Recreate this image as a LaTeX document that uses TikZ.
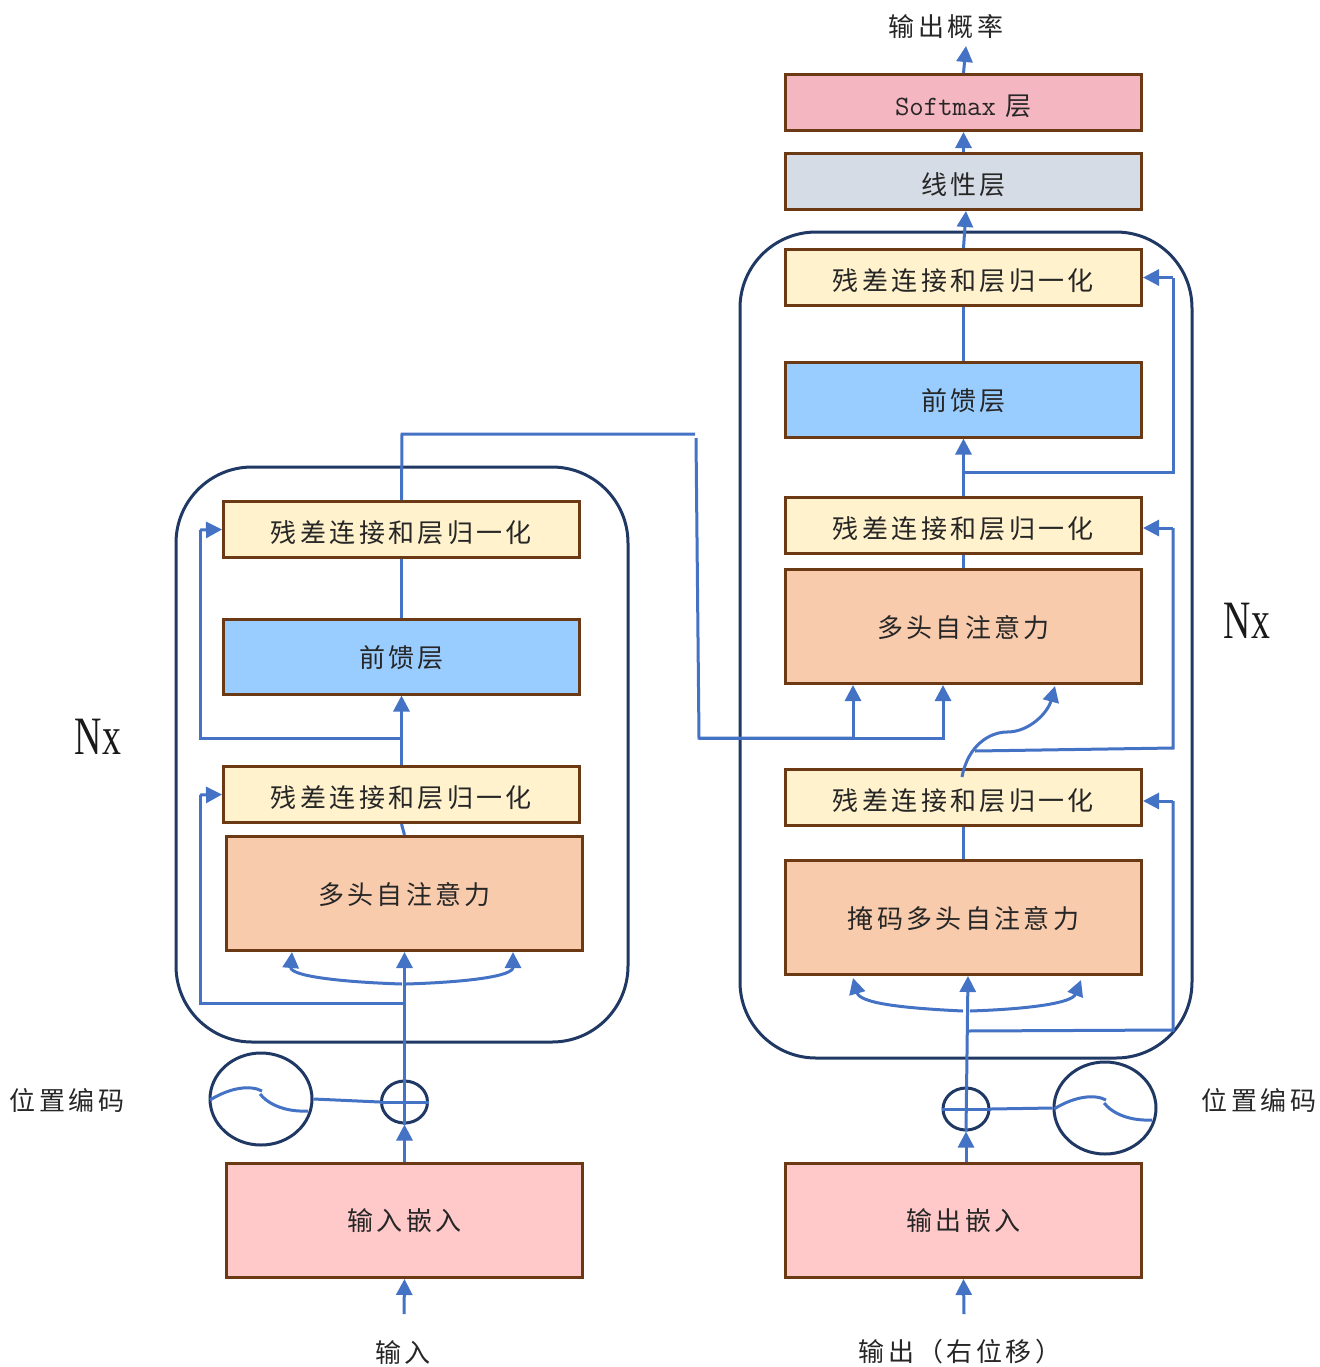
\documentclass[tikz,border=0pt]{standalone}
\usepackage{fontspec}
\usetikzlibrary{arrows.meta}
\usetikzlibrary{shapes.geometric}
\setmainfont{Liberation Serif}
\newfontfamily\cjk[LetterSpace=13]{Noto Sans CJK SC}
\newfontfamily\nxfont[FakeStretch=0.7]{Liberation Serif}
\definecolor{flowblue}{HTML}{4472C4}
\definecolor{darkblue}{HTML}{203864}
\definecolor{boxbrown}{HTML}{6B3A14}
\definecolor{resfill}{HTML}{FFF2CC}
\definecolor{feedfill}{HTML}{99CCFF}
\definecolor{attfill}{HTML}{F8CBAD}
\definecolor{embfill}{HTML}{FFC9C9}
\definecolor{softfill}{HTML}{F4B6C0}
\definecolor{linfill}{HTML}{D6DCE5}
\def\dx{0.5pt}
\tikzset{
  layerbox/.style={rectangle, draw=boxbrown, line width=1.5pt, minimum width=356*\dx,
                   text=black!85, font=\fontsize{13}{13}\selectfont\cjk},
  thinbox/.style={layerbox, minimum height=56*\dx, text height=13.4pt, text depth=0pt},
  tallbox/.style={layerbox, minimum height=114*\dx},
  resbox/.style={thinbox, fill=resfill},
  feedbox/.style={layerbox, minimum height=75*\dx, fill=feedfill, text height=11.4pt, text depth=0pt},
  attbox/.style={tallbox, fill=attfill, text height=11.4pt, text depth=0pt},
  embbox/.style={tallbox, fill=embfill},
  stackbox/.style={rectangle, rounded corners=38pt, draw=darkblue, line width=1.5pt,
                   minimum width=452*\dx},
  sinebox/.style={ellipse, draw=darkblue, line width=1.5pt, minimum width=102*\dx, minimum height=92*\dx, inner sep=0pt},
  plusbox/.style={ellipse, draw=darkblue, line width=1.5pt, minimum width=46*\dx, minimum height=42*\dx, inner sep=0pt},
  lbl/.style={text=black!85, font=\fontsize{13}{13}\selectfont\cjk, inner sep=0pt},
  nxlbl/.style={text=black!90, font=\fontsize{27}{27}\selectfont\nxfont, inner sep=0pt},
  wire/.style={draw=flowblue, line width=1.5pt},
  flow/.style={wire, -{Triangle[length=8pt,width=8pt]}}
}
% small wave inside a circle
\newcommand{\sinewave}[1]{
  \draw[wire, shift={(#1)}] (-51,1) .. controls (-30,-12) and (-10,-14) .. (1,-8);
  \draw[wire, shift={(#1)}] (-1,-5) .. controls (8,6) and (25,13) .. (47,12);
}

\begin{document}
\begin{tikzpicture}[x=\dx, y=-\dx]
\useasboundingbox (0,0) rectangle (1320,1367);

% stacks
\node[stackbox, minimum height=575*\dx] (stackL) at (402,754.5) {};
\node[stackbox, minimum height=826*\dx] (stackR) at (966,645) {};

% encoder
\node[embbox] (embL) at (404.5,1220.5) {输入嵌入};
\node[attbox] (attL) at (404.5,893.5) {多头自注意力};
\node[resbox] (res1L) at (401.5,794.5) {残差连接和层归一化};
\node[feedbox] (feedL) at (401.5,656.5) {前馈层};
\node[resbox] (res2L) at (401.5,529.5) {残差连接和层归一化};
\node[sinebox] (sineL) at (261,1099) {};
\node[plusbox] (plusL) at (404.5,1102) {};

% decoder
\node[embbox] (embR) at (963.5,1220.5) {输出嵌入};
\node[attbox] (maskR) at (963.5,917.5) {掩码多头自注意力};
\node[resbox] (res1R) at (963.5,797.5) {残差连接和层归一化};
\node[attbox] (attR) at (963.5,626.5) {多头自注意力};
\node[resbox] (res2R) at (963.5,525.5) {残差连接和层归一化};
\node[feedbox] (feedR) at (963.5,399.5) {前馈层};
\node[resbox] (res3R) at (963.5,277.5) {残差连接和层归一化};
\node[thinbox, fill=linfill] (linR) at (963.5,181.5) {线性层};
\node[thinbox, fill=softfill] (softR) at (963.5,102.5) {{\ttfamily\fontsize{14}{14}\selectfont Softmax}\hspace{5pt}层};
\node[sinebox] (sineR) at (1105,1108) {};
\node[plusbox] (plusR) at (966,1109) {};

% labels
\node[lbl] (inlbl) at (403,1353) {输入};
\node[lbl] (outlbl) at (960,1352) {输出（右位移）};
\node[lbl] (problbl) at (946,27) {输出概率};
\node[lbl] (posL) at (67,1100) {位置编码};
\node[lbl] (posR) at (1259,1100) {位置编码};
\node[nxlbl] (nxL) at (98,737) {Nx};
\node[nxlbl] (nxR) at (1247,621) {Nx};

% free ends and corners
\coordinate (inend) at (404,1314);
\coordinate (outend) at (964,1314);
\coordinate (probend) at (966,46);
\coordinate (splitL) at (404,1003);
\coordinate (skip1L) at (200,795);
\coordinate (tapL) at (402,738);
\coordinate (skip2L) at (200,530);
\coordinate (busA) at (402,434);
\coordinate (busB) at (695,434);
\coordinate (busC) at (696,438);
\coordinate (busD) at (699,738);
\coordinate (busE) at (853,738);
\coordinate (splitR) at (967,1031);
\coordinate (skip1R) at (1173,1030);
\coordinate (in1R) at (1143,801);
\coordinate (tapR) at (975,751);
\coordinate (skip2R) at (1173,748);
\coordinate (in2R) at (1143,528);
\coordinate (tap3R) at (964,472);

% encoder wires
\draw[flow] (inend) -- (embL.south);
\draw[flow] (embL.north) -- (plusL.south);
\draw[flow] (plusL.south) -- (attL.south);
\draw[wire] (plusL.west) -- (plusL.east);
\draw[wire] (sineL.east) -- (plusL.west);
\sinewave{sineL}
\draw[flow] (402,984) .. controls (340,982) and (290,976) .. (292,952);
\draw[flow] (406,984) .. controls (470,982) and (513,976) .. (513,952);
\draw[wire] (splitL) -- (splitL -| skip1L) -- (skip1L);
\draw[flow] (skip1L) -- (res1L.west);
\draw[wire] (res1L.south) -- (attL.north);
\draw[flow] (res1L.north) -- (feedL.south);
\draw[wire] (tapL) -- (tapL -| skip2L) -- (skip2L);
\draw[flow] (skip2L) -- (res2L.west);
\draw[wire] (feedL.north) -- (res2L.south);
\draw[wire] (res2L.north) -- (busA) -- (busB);

% link to decoder
\draw[wire] (busC) -- (busD) -- (busE);
\draw[flow] (busD) -- (943,738) -- (943,685);
\draw[flow] (busE) -- (853,685);

% decoder wires
\draw[flow] (outend) -- (embR.south);
\draw[flow] (embR.north -| plusR) -- (plusR.south);
\draw[flow] (plusR.south) -- (968,976);
\draw[wire] (plusR.west) -- (plusR.east);
\draw[wire] (sineR.west) -- (plusR.east);
\sinewave{sineR}
\draw[flow] (963,1011) .. controls (900,1008) and (860,1003) .. (853,978);
\draw[flow] (970,1011) .. controls (1030,1009) and (1072,1003) .. (1081,980);
\draw[wire] (splitR) -- (skip1R) -- (skip1R |- in1R);
\draw[flow] (skip1R |- in1R) -- (in1R);
\draw[wire] (maskR.north) -- (res1R.south);
\draw[flow] (962,777) .. controls (968,745) and (990,732) .. (1007,732) .. controls (1030,732) and (1048,712) .. (1055,686);
\draw[wire] (tapR) -- (skip2R) -- (skip2R |- in2R);
\draw[flow] (skip2R |- in2R) -- (in2R);
\draw[wire] (attR.north) -- (res2R.south);
\draw[flow] (res2R.north) -- (feedR.south);
\draw[wire] (tap3R) -- (tap3R -| skip2R) -- (skip2R |- res3R);
\draw[flow] (skip2R |- res3R) -- (res3R.east);
\draw[wire] (feedR.north) -- (res3R.south);
\draw[flow] (res3R.north) -- (966,211);
\draw[flow] (linR.north) -- (softR.south);
\draw[flow] (softR.north) -- (probend);
\end{tikzpicture}
\end{document}
